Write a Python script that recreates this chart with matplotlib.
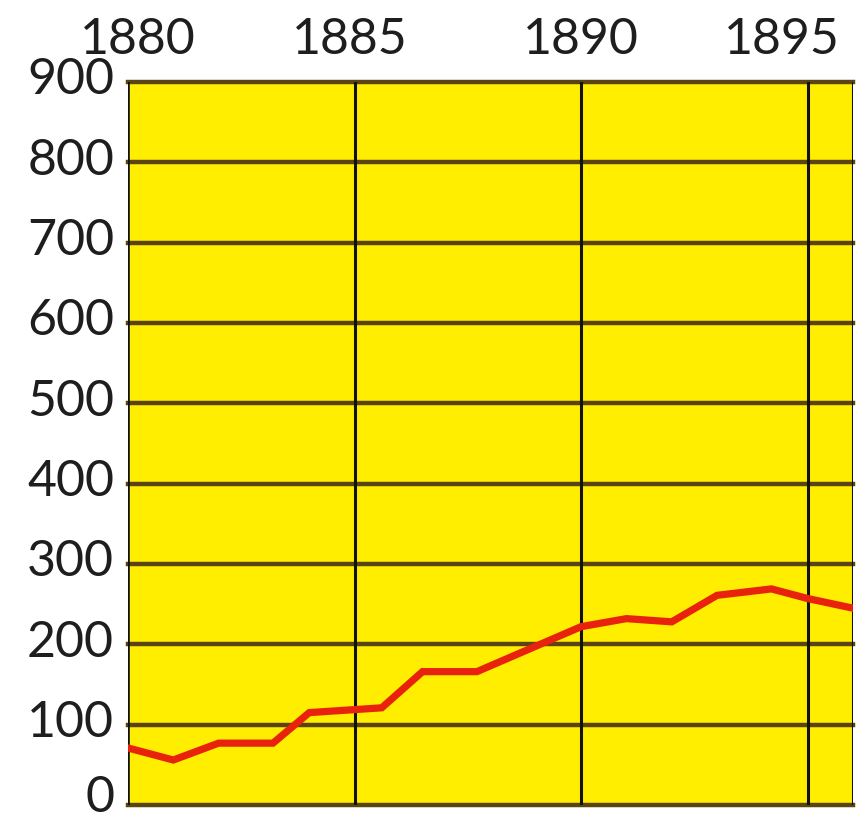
import matplotlib
matplotlib.use("Agg")
import matplotlib.pyplot as plt
import matplotlib.transforms as mtransforms

# data
years = [1880, 1881, 1882, 1883.2, 1884, 1885.6, 1886.5, 1887.7, 1890, 1891, 1892, 1893, 1894.2, 1895, 1896]
values = [71, 56, 77, 77, 115, 121, 166, 166, 222, 232, 228, 261, 269, 257, 245]
x_ticks = [1880, 1885, 1890, 1895]
x_tick_labels = ["1880", "1885", "1890", "1895"]
y_ticks = [0, 100, 200, 300, 400, 500, 600, 700, 800, 900]
y_tick_labels = [str(v) for v in y_ticks]

plt.rcParams['font.family'] = ['Lato', 'DejaVu Sans']

fig = plt.figure(figsize=(8.6, 8.26), dpi=100)
fig.patch.set_facecolor('white')
ax = fig.add_axes([128/860, 1 - 805/826, (853-128)/860, (805-82)/826])
ax.set_facecolor('#FFEE00')
ax.set_xlim(1880, 1896)
ax.set_ylim(0, 900)

# grid lines
for y in y_ticks:
    ax.axhline(y, color='#5A4412', lw=3.2, zorder=1, clip_on=False)
for x in x_ticks[1:] + [1896]:
    ax.axvline(x, color='#111111', lw=2.2, zorder=1.5)
ax.axvline(1880, color='#111111', lw=2.6, zorder=1.5)

ax.plot(years, values, color='#E8220C', lw=5.2, solid_joinstyle='miter', zorder=3)

for s in ax.spines.values():
    s.set_visible(False)

ax.xaxis.tick_top()
ax.set_xticks(x_ticks)
ax.set_xticklabels(x_tick_labels)
ax.set_yticks(y_ticks)
ax.set_yticklabels(y_tick_labels)
ax.tick_params(length=0, labelsize=36, colors='#1e1e1e')
ax.tick_params(axis='x', pad=14)
ax.tick_params(axis='y', pad=10)

# nudge the top labels
offsets_px = [10, -5, 0, -26]
for lab, dx in zip(ax.get_xticklabels(), offsets_px):
    lab.set_transform(lab.get_transform() + mtransforms.ScaledTranslation(dx/100, 0, fig.dpi_scale_trans))

# nudge the left labels slightly upward
for lab in ax.get_yticklabels():
    dy = 12 if lab.get_text() == "0" else 6
    lab.set_transform(lab.get_transform() + mtransforms.ScaledTranslation(0, dy/100, fig.dpi_scale_trans))

fig.savefig("out.png", dpi=100, facecolor='white')
